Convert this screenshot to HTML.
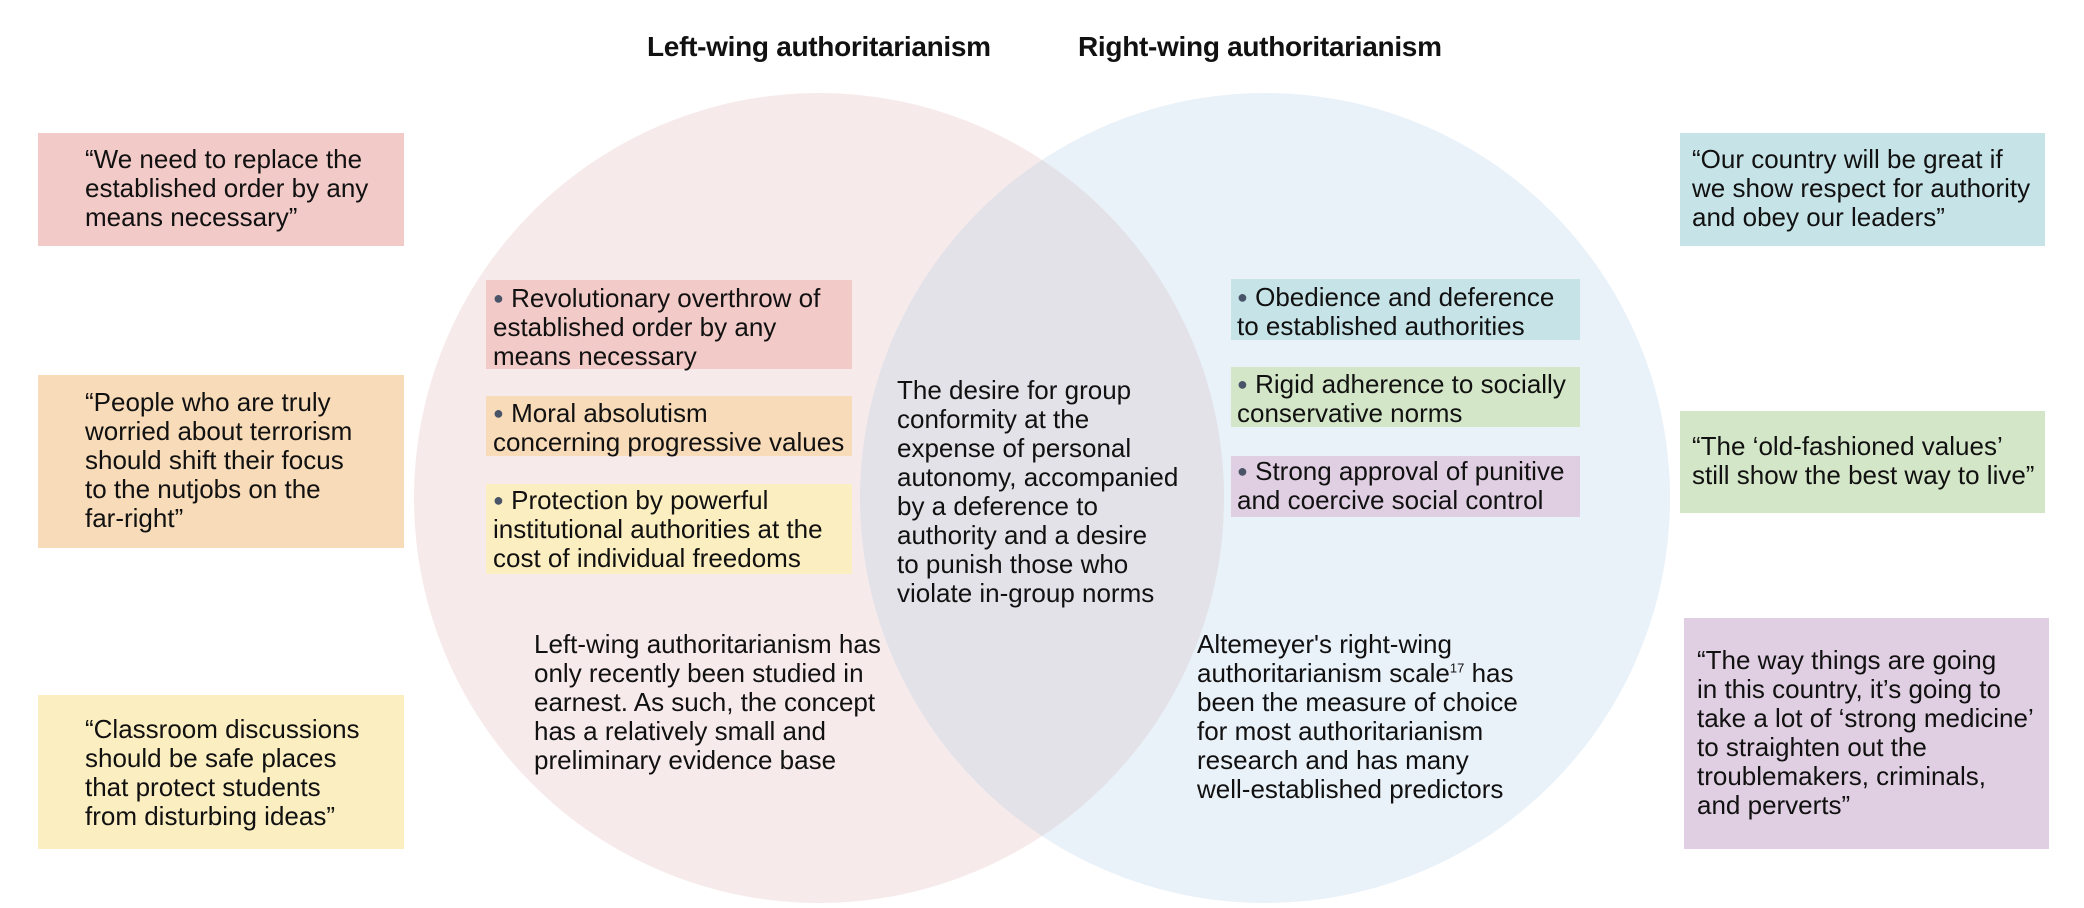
<!DOCTYPE html>
<html><head><meta charset="utf-8"><style>
html,body{margin:0;padding:0;background:#fff;}
#c{position:relative;width:2084px;height:908px;overflow:hidden;font-family:"Liberation Sans",sans-serif;color:#111;}
.t{position:absolute;font-size:26px;line-height:29px;letter-spacing:0;white-space:nowrap;}
.b{position:absolute;}
.h{position:absolute;font-weight:bold;font-size:28px;top:31px;letter-spacing:-0.3px;white-space:nowrap;}
.d{color:#4a5468;font-size:18px;vertical-align:3px;}
</style></head><body><div id="c">
<svg width="2084" height="908" style="position:absolute;left:0;top:0">
<defs><clipPath id="cl"><circle cx="819" cy="498" r="405"/></clipPath></defs>
<circle cx="819" cy="498" r="405" fill="#f7eaeb"/>
<circle cx="1265" cy="498" r="405" fill="#e9f1f9"/>
<circle cx="1265" cy="498" r="405" fill="#e3e2e8" clip-path="url(#cl)"/>
</svg>
<div class="h" style="left:647px">Left-wing authoritarianism</div>
<div class="h" style="left:1078px">Right-wing authoritarianism</div>

<div class="b" style="left:38px;top:133px;width:366px;height:113px;background:#f2cac8"></div>
<div class="t" style="left:85px;top:145px">“We need to replace the<br>established order by any<br>means necessary”</div>
<div class="b" style="left:38px;top:375px;width:366px;height:173px;background:#f8dbb9"></div>
<div class="t" style="left:85px;top:388px">“People who are truly<br>worried about terrorism<br>should shift their focus<br>to the nutjobs on the<br>far-right”</div>
<div class="b" style="left:38px;top:695px;width:366px;height:154px;background:#fbeec0"></div>
<div class="t" style="left:85px;top:715px">“Classroom discussions<br>should be safe places<br>that protect students<br>from disturbing ideas”</div>

<div class="b" style="left:1680px;top:133px;width:365px;height:113px;background:#c6e3e8"></div>
<div class="t" style="left:1692px;top:145px">“Our country will be great if<br>we show respect for authority<br>and obey our leaders”</div>
<div class="b" style="left:1680px;top:411px;width:365px;height:102px;background:#d4e6c8"></div>
<div class="t" style="left:1692px;top:432px">“The ‘old-fashioned values’<br>still show the best way to live”</div>
<div class="b" style="left:1684px;top:618px;width:365px;height:231px;background:#e0cfe2"></div>
<div class="t" style="left:1697px;top:646px">“The way things are going<br>in this country, it’s going to<br>take a lot of ‘strong medicine’<br>to straighten out the<br>troublemakers, criminals,<br>and perverts”</div>

<div class="b" style="left:486px;top:280px;width:366px;height:89px;background:#f2cac8"></div>
<div class="t" style="left:493px;top:284px"><span class="d">●</span> Revolutionary overthrow of<br>established order by any<br>means necessary</div>
<div class="b" style="left:486px;top:396px;width:366px;height:60px;background:#f8dbb9"></div>
<div class="t" style="left:493px;top:399px"><span class="d">●</span> Moral absolutism<br>concerning progressive values</div>
<div class="b" style="left:486px;top:484px;width:366px;height:90px;background:#fbeec0"></div>
<div class="t" style="left:493px;top:486px"><span class="d">●</span> Protection by powerful<br>institutional authorities at the<br>cost of individual freedoms</div>

<div class="b" style="left:1231px;top:279px;width:349px;height:61px;background:#c6e3e8"></div>
<div class="t" style="left:1237px;top:283px"><span class="d">●</span> Obedience and deference<br>to established authorities</div>
<div class="b" style="left:1231px;top:367px;width:349px;height:60px;background:#d4e6c8"></div>
<div class="t" style="left:1237px;top:370px"><span class="d">●</span> Rigid adherence to socially<br>conservative norms</div>
<div class="b" style="left:1231px;top:456px;width:349px;height:61px;background:#e0cfe2"></div>
<div class="t" style="left:1237px;top:457px"><span class="d">●</span> Strong approval of punitive<br>and coercive social control</div>

<div class="t" style="left:897px;top:376px">The desire for group<br>conformity at the<br>expense of personal<br>autonomy, accompanied<br>by a deference to<br>authority and a desire<br>to punish those who<br>violate in-group norms</div>

<div class="t" style="left:534px;top:630px">Left-wing authoritarianism has<br>only recently been studied in<br>earnest. As such, the concept<br>has a relatively small and<br>preliminary evidence base</div>
<div class="t" style="left:1197px;top:630px">Altemeyer's right-wing<br>authoritarianism scale<sup style="font-size:13px;line-height:0">17</sup> has<br>been the measure of choice<br>for most authoritarianism<br>research and has many<br>well-established predictors</div>
</div></body></html>
